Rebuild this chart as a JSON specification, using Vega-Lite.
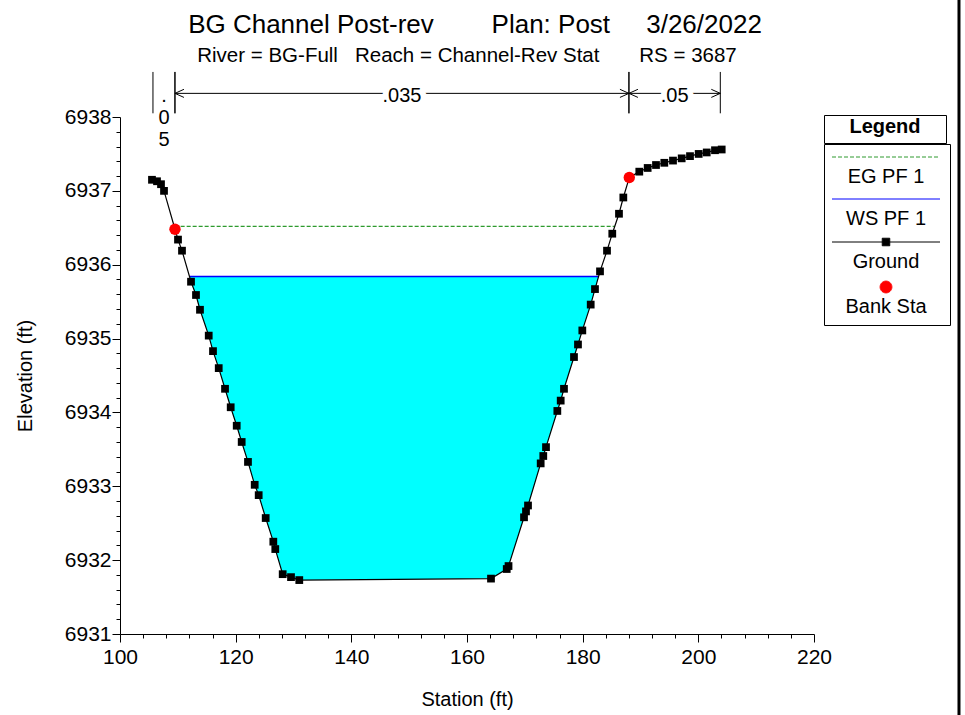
{
  "$schema": "https://vega.github.io/schema/vega-lite/v6.json",
  "width": 694,
  "height": 517,
  "autosize": {"type": "none"},
  "padding": {"left": 120, "top": 117, "right": 151, "bottom": 81},
  "background": "white",
  "title": {
    "text": "BG Channel Post-rev\u00a0\u00a0\u00a0\u00a0\u00a0\u00a0\u00a0\u00a0Plan: Post\u00a0\u00a0\u00a0\u00a0\u00a03/26/2022",
    "subtitle": "River = BG-Full\u00a0\u00a0\u00a0Reach = Channel-Rev Stat\u00a0\u00a0\u00a0\u00a0\u00a0\u00a0\u00a0RS = 3687",
    "font": "Liberation Sans",
    "fontSize": 26,
    "fontWeight": "normal",
    "color": "black",
    "subtitleFont": "Liberation Sans",
    "subtitleFontSize": 20.5,
    "subtitleColor": "black",
    "subtitlePadding": 8,
    "anchor": "middle",
    "offset": -69,
    "dx": 8,
    "encode": {"subtitle": {"update": {"dx": {"value": 0}}}}
  },
  "datasets": {
    "ground": [
      {"station": 105.53, "elev": 6937.15}, {"station": 106.40, "elev": 6937.13}, {"station": 107.09, "elev": 6937.09},
      {"station": 107.61, "elev": 6937.00}, {"station": 109.51, "elev": 6936.48}, {"station": 110.03, "elev": 6936.34},
      {"station": 110.72, "elev": 6936.19}, {"station": 112.28, "elev": 6935.77}, {"station": 113.14, "elev": 6935.59},
      {"station": 113.83, "elev": 6935.39}, {"station": 115.34, "elev": 6935.04}, {"station": 116.08, "elev": 6934.83},
      {"station": 117.07, "elev": 6934.60}, {"station": 118.16, "elev": 6934.32}, {"station": 119.14, "elev": 6934.07},
      {"station": 120.18, "elev": 6933.82}, {"station": 121.04, "elev": 6933.60}, {"station": 122.13, "elev": 6933.33},
      {"station": 123.29, "elev": 6933.02}, {"station": 123.98, "elev": 6932.88}, {"station": 125.19, "elev": 6932.57},
      {"station": 126.51, "elev": 6932.25}, {"station": 126.85, "elev": 6932.15}, {"station": 128.13, "elev": 6931.81},
      {"station": 129.57, "elev": 6931.77}, {"station": 131.00, "elev": 6931.73}, {"station": 164.15, "elev": 6931.75},
      {"station": 166.87, "elev": 6931.88}, {"station": 167.18, "elev": 6931.92}, {"station": 169.86, "elev": 6932.58},
      {"station": 170.20, "elev": 6932.66}, {"station": 170.55, "elev": 6932.74}, {"station": 172.74, "elev": 6933.31},
      {"station": 173.19, "elev": 6933.41}, {"station": 173.66, "elev": 6933.53}, {"station": 175.62, "elev": 6934.02},
      {"station": 176.20, "elev": 6934.16}, {"station": 176.77, "elev": 6934.32}, {"station": 178.50, "elev": 6934.75},
      {"station": 179.19, "elev": 6934.92}, {"station": 179.94, "elev": 6935.11}, {"station": 181.39, "elev": 6935.46},
      {"station": 182.13, "elev": 6935.67}, {"station": 183.00, "elev": 6935.91}, {"station": 184.21, "elev": 6936.19},
      {"station": 185.12, "elev": 6936.42}, {"station": 186.28, "elev": 6936.69}, {"station": 187.03, "elev": 6936.91},
      {"station": 188.06, "elev": 6937.18}, {"station": 189.79, "elev": 6937.26}, {"station": 191.24, "elev": 6937.31},
      {"station": 192.68, "elev": 6937.35}, {"station": 194.12, "elev": 6937.38}, {"station": 195.62, "elev": 6937.41},
      {"station": 197.12, "elev": 6937.44}, {"station": 198.56, "elev": 6937.47}, {"station": 200.06, "elev": 6937.50},
      {"station": 201.45, "elev": 6937.52}, {"station": 202.88, "elev": 6937.55}, {"station": 204.04, "elev": 6937.56}
    ],
    "bank": [
      {"station": 109.51, "elev": 6936.48},
      {"station": 188.06, "elev": 6937.18}
    ],
    "water": [
      {"station": 112.05, "elev": 6935.84},
      {"station": 112.28, "elev": 6935.77}, {"station": 113.14, "elev": 6935.59}, {"station": 113.83, "elev": 6935.39},
      {"station": 115.34, "elev": 6935.04}, {"station": 116.08, "elev": 6934.83}, {"station": 117.07, "elev": 6934.60},
      {"station": 118.16, "elev": 6934.32}, {"station": 119.14, "elev": 6934.07}, {"station": 120.18, "elev": 6933.82},
      {"station": 121.04, "elev": 6933.60}, {"station": 122.13, "elev": 6933.33}, {"station": 123.29, "elev": 6933.02},
      {"station": 123.98, "elev": 6932.88}, {"station": 125.19, "elev": 6932.57}, {"station": 126.51, "elev": 6932.25},
      {"station": 126.85, "elev": 6932.15}, {"station": 128.13, "elev": 6931.81}, {"station": 129.57, "elev": 6931.77},
      {"station": 131.00, "elev": 6931.73}, {"station": 164.15, "elev": 6931.75}, {"station": 166.87, "elev": 6931.88},
      {"station": 167.18, "elev": 6931.92}, {"station": 169.86, "elev": 6932.58}, {"station": 170.20, "elev": 6932.66},
      {"station": 170.55, "elev": 6932.74}, {"station": 172.74, "elev": 6933.31}, {"station": 173.19, "elev": 6933.41},
      {"station": 173.66, "elev": 6933.53}, {"station": 175.62, "elev": 6934.02}, {"station": 176.20, "elev": 6934.16},
      {"station": 176.77, "elev": 6934.32}, {"station": 178.50, "elev": 6934.75}, {"station": 179.19, "elev": 6934.92},
      {"station": 179.94, "elev": 6935.11}, {"station": 181.39, "elev": 6935.46}, {"station": 182.13, "elev": 6935.67},
      {"station": 182.75, "elev": 6935.84}
    ],
    "eg": [
      {"station": 109.45, "elev": 6936.52},
      {"station": 185.55, "elev": 6936.52}
    ],
    "ws": [
      {"station": 112.05, "elev": 6935.84},
      {"station": 182.75, "elev": 6935.84}
    ],
    "nzones": [
      {"n": ".05", "start": 105.7, "end": 109.5},
      {"n": ".035", "start": 109.5, "end": 188.0},
      {"n": ".05", "start": 188.0, "end": 203.8}
    ],
    "frame": [
      {"station": 245.07}
    ]
  },
  "resolve": {"axis": {"x": "independent", "y": "independent"}},
  "layer": [
    {
      "data": {"name": "water"},
      "mark": {"type": "area", "color": "#00ffff", "orient": "vertical", "opacity": 1},
      "encoding": {
        "x": {"field": "station", "type": "quantitative", "scale": {"domain": [100, 220], "nice": false, "zero": false}, "axis": null},
        "y": {"field": "elev", "type": "quantitative", "scale": {"domain": [6931, 6938], "nice": false, "zero": false}, "axis": null},
        "y2": {"datum": 6935.84}
      }
    },
    {
      "data": {"name": "eg"},
      "mark": {"type": "line", "strokeWidth": 1.2},
      "encoding": {
        "x": {"field": "station", "type": "quantitative", "scale": {"domain": [100, 220], "nice": false, "zero": false}, "axis": null},
        "y": {"field": "elev", "type": "quantitative", "scale": {"domain": [6931, 6938], "nice": false, "zero": false}, "axis": null},
        "color": {
          "datum": "EG PF 1",
          "type": "nominal",
          "scale": {"domain": ["EG PF 1", "WS PF 1", "Ground", "Bank Sta"], "range": ["#2e9a2e", "#0000ff", "#000000", "#ff0000"]},
          "legend": {
            "title": null,
            "orient": "none",
            "legendX": 704,
            "legendY": 27,
            "padding": 8,
            "strokeColor": "black",
            "fillColor": "white",
            "cornerRadius": 0,
            "labelFont": "Liberation Sans",
            "labelFontSize": 20,
            "labelColor": "black",
            "labelLimit": 300,
            "symbolSize": 16,
            "rowPadding": 7,
            "encode": {
              "symbols": {
                "update": {
                  "shape": {"signal": "datum.value === 'Bank Sta' ? 'circle' : datum.value === 'Ground' ? 'M-1,0H1M-0.07,-0.07H0.07V0.07H-0.07Z' : 'M-1,0H1'"},
                  "size": {"signal": "datum.value === 'Bank Sta' ? 140 : 11664"},
                  "x": {"value": 54},
                  "y": {"value": 5},
                  "fill": {"signal": "datum.value === 'Bank Sta' ? '#ff0000' : datum.value === 'Ground' ? '#000000' : 'transparent'"},
                  "stroke": {"signal": "datum.value === 'Bank Sta' ? 'transparent' : datum.value === 'EG PF 1' ? '#2e9a2e' : datum.value === 'WS PF 1' ? '#0000ff' : '#000000'"},
                  "strokeDash": {"signal": "datum.value === 'EG PF 1' ? [4, 2] : [1, 0]"},
                  "strokeWidth": {"value": 1},
                  "opacity": {"value": 1}
                }
              },
              "labels": {
                "update": {
                  "x": {"value": 54},
                  "y": {"value": 25},
                  "align": {"value": "center"},
                  "baseline": {"value": "middle"}
                }
              }
            }
          }
        },
        "strokeDash": {
          "datum": "EG",
          "type": "nominal",
          "scale": {"domain": ["EG"], "range": [[4, 2]]},
          "legend": {
            "title": "Legend",
            "orient": "none",
            "legendX": 704,
            "legendY": -2,
            "padding": 2,
            "strokeColor": "black",
            "fillColor": "white",
            "cornerRadius": 0,
            "titleFont": "Liberation Sans",
            "titleFontSize": 20,
            "titleFontWeight": "bold",
            "titleColor": "black",
            "titleAnchor": "middle",
            "titleAlign": "center",
            "titlePadding": -1,
            "titleLimit": 300,
            "symbolType": "M-120,0H120",
            "symbolSize": 1,
            "symbolStrokeWidth": 1,
            "symbolOpacity": 0,
            "symbolStrokeColor": "white",
            "symbolOffset": 53,
            "labelExpr": "''",
            "labelFontSize": 0,
            "labelOffset": 0
          }
        }
      }
    },
    {
      "data": {"name": "ws"},
      "mark": {"type": "line", "strokeWidth": 1.5},
      "encoding": {
        "x": {"field": "station", "type": "quantitative", "scale": {"domain": [100, 220], "nice": false, "zero": false}, "axis": null},
        "y": {"field": "elev", "type": "quantitative", "scale": {"domain": [6931, 6938], "nice": false, "zero": false}, "axis": null},
        "color": {"datum": "WS PF 1", "type": "nominal"}
      }
    },
    {
      "data": {"name": "ground"},
      "mark": {"type": "line", "strokeWidth": 1.2},
      "encoding": {
        "x": {
          "field": "station", "type": "quantitative",
          "scale": {"domain": [100, 220], "nice": false, "zero": false},
          "axis": {
            "orient": "bottom", "title": "Station (ft)", "values": [100, 120, 140, 160, 180, 200, 220], "format": "d",
            "tickSize": 8, "labelFontSize": 21, "labelPadding": 4, "titleFontSize": 20, "titleFontWeight": "normal",
            "titlePadding": 22, "grid": false, "domainColor": "black", "tickColor": "black", "labelColor": "black",
            "titleColor": "black", "labelFlush": false, "labelOverlap": false, "labelFont": "Liberation Sans", "titleFont": "Liberation Sans"
          }
        },
        "y": {
          "field": "elev", "type": "quantitative",
          "scale": {"domain": [6931, 6938], "nice": false, "zero": false},
          "axis": {
            "orient": "left", "title": "Elevation (ft)", "values": [6931, 6932, 6933, 6934, 6935, 6936, 6937, 6938], "format": "d",
            "tickSize": 8, "labelFontSize": 21, "labelPadding": 1, "titleFontSize": 20, "titleFontWeight": "normal",
            "titlePadding": 29, "grid": false, "domainColor": "black", "tickColor": "black", "labelColor": "black",
            "titleColor": "black", "labelFlush": false, "labelOverlap": false, "labelFont": "Liberation Sans", "titleFont": "Liberation Sans"
          }
        },
        "color": {"datum": "Ground", "type": "nominal"}
      }
    },
    {
      "data": {"name": "ground"},
      "mark": {"type": "point", "shape": "square", "filled": true, "size": 60, "opacity": 1, "strokeWidth": 0},
      "encoding": {
        "x": {
          "field": "station", "type": "quantitative",
          "scale": {"domain": [100, 220], "nice": false, "zero": false},
          "axis": {
            "orient": "bottom", "title": null, "labels": false, "domain": false, "grid": false, "tickSize": 4, "tickColor": "black",
            "values": [104, 108, 112, 116, 124, 128, 132, 136, 144, 148, 152, 156, 164, 168, 172, 176, 184, 188, 192, 196, 204, 208, 212, 216]
          }
        },
        "y": {
          "field": "elev", "type": "quantitative",
          "scale": {"domain": [6931, 6938], "nice": false, "zero": false},
          "axis": {
            "orient": "left", "title": null, "labels": false, "domain": false, "grid": false, "tickSize": 4, "tickColor": "black",
            "values": [6931.2, 6931.4, 6931.6, 6931.8, 6932.2, 6932.4, 6932.6, 6932.8, 6933.2, 6933.4, 6933.6, 6933.8, 6934.2, 6934.4, 6934.6, 6934.8, 6935.2, 6935.4, 6935.6, 6935.8, 6936.2, 6936.4, 6936.6, 6936.8, 6937.2, 6937.4, 6937.6, 6937.8]
          }
        },
        "color": {"datum": "Ground", "type": "nominal"}
      }
    },
    {
      "data": {"name": "bank"},
      "mark": {"type": "point", "shape": "circle", "filled": true, "size": 130, "opacity": 1, "strokeWidth": 0},
      "encoding": {
        "x": {"field": "station", "type": "quantitative", "scale": {"domain": [100, 220], "nice": false, "zero": false}, "axis": null},
        "y": {"field": "elev", "type": "quantitative", "scale": {"domain": [6931, 6938], "nice": false, "zero": false}, "axis": null},
        "color": {"datum": "Bank Sta", "type": "nominal"}
      }
    },
    {
      "data": {"name": "nzones"},
      "mark": {"type": "rule", "color": "black", "strokeWidth": 1},
      "encoding": {
        "x": {"field": "start", "type": "quantitative", "scale": {"domain": [100, 220], "nice": false, "zero": false}, "axis": null},
        "y": {"datum": 6938.05, "type": "quantitative", "scale": {"domain": [6931, 6938], "nice": false, "zero": false}, "axis": null},
        "y2": {"datum": 6938.61}
      }
    },
    {
      "data": {"name": "nzones"},
      "mark": {"type": "rule", "color": "black", "strokeWidth": 1},
      "encoding": {
        "x": {"field": "end", "type": "quantitative", "scale": {"domain": [100, 220], "nice": false, "zero": false}, "axis": null},
        "y": {"datum": 6938.05, "type": "quantitative", "scale": {"domain": [6931, 6938], "nice": false, "zero": false}, "axis": null},
        "y2": {"datum": 6938.61}
      }
    },
    {
      "data": {"name": "nzones"},
      "transform": [{"filter": "datum.end - datum.start > 10"}],
      "mark": {"type": "rule", "color": "black", "strokeWidth": 1},
      "encoding": {
        "x": {"field": "start", "type": "quantitative", "scale": {"domain": [100, 220], "nice": false, "zero": false}, "axis": null},
        "x2": {"field": "end"},
        "y": {"datum": 6938.32, "type": "quantitative", "scale": {"domain": [6931, 6938], "nice": false, "zero": false}, "axis": null}
      }
    },
    {
      "data": {"name": "nzones"},
      "transform": [{"filter": "datum.end - datum.start > 10"}],
      "mark": {"type": "point", "shape": "M1,-0.45L0,0L1,0.45", "filled": false, "size": 324, "color": "black", "strokeWidth": 1, "opacity": 1},
      "encoding": {
        "x": {"field": "start", "type": "quantitative", "scale": {"domain": [100, 220], "nice": false, "zero": false}, "axis": null},
        "y": {"datum": 6938.32, "type": "quantitative", "scale": {"domain": [6931, 6938], "nice": false, "zero": false}, "axis": null}
      }
    },
    {
      "data": {"name": "nzones"},
      "transform": [{"filter": "datum.end - datum.start > 10"}],
      "mark": {"type": "point", "shape": "M-1,-0.45L0,0L-1,0.45", "filled": false, "size": 324, "color": "black", "strokeWidth": 1, "opacity": 1},
      "encoding": {
        "x": {"field": "end", "type": "quantitative", "scale": {"domain": [100, 220], "nice": false, "zero": false}, "axis": null},
        "y": {"datum": 6938.32, "type": "quantitative", "scale": {"domain": [6931, 6938], "nice": false, "zero": false}, "axis": null}
      }
    },
    {
      "data": {"name": "nzones"},
      "transform": [{"filter": "datum.end - datum.start > 10"}, {"calculate": "(datum.start + datum.end) / 2", "as": "mid"}],
      "mark": {"type": "text", "font": "Liberation Sans", "fontSize": 20, "align": "center", "baseline": "middle", "fill": "white", "stroke": "white", "strokeWidth": 12, "strokeJoin": "round"},
      "encoding": {
        "x": {"field": "mid", "type": "quantitative", "scale": {"domain": [100, 220], "nice": false, "zero": false}, "axis": null},
        "y": {"datum": 6938.29, "type": "quantitative", "scale": {"domain": [6931, 6938], "nice": false, "zero": false}, "axis": null},
        "text": {"field": "n", "type": "nominal"}
      }
    },
    {
      "data": {"name": "nzones"},
      "transform": [{"filter": "datum.end - datum.start > 10"}, {"calculate": "(datum.start + datum.end) / 2", "as": "mid"}],
      "mark": {"type": "text", "font": "Liberation Sans", "fontSize": 20, "align": "center", "baseline": "middle", "color": "black"},
      "encoding": {
        "x": {"field": "mid", "type": "quantitative", "scale": {"domain": [100, 220], "nice": false, "zero": false}, "axis": null},
        "y": {"datum": 6938.29, "type": "quantitative", "scale": {"domain": [6931, 6938], "nice": false, "zero": false}, "axis": null},
        "text": {"field": "n", "type": "nominal"}
      }
    },
    {
      "data": {"name": "nzones"},
      "transform": [{"filter": "datum.end - datum.start <= 10"}, {"calculate": "(datum.start + datum.end) / 2", "as": "mid"}, {"calculate": "split(datum.n, '')", "as": "chars"}],
      "mark": {"type": "text", "font": "Liberation Sans", "fontSize": 20, "align": "center", "baseline": "alphabetic", "lineHeight": 22, "color": "black"},
      "encoding": {
        "x": {"field": "mid", "type": "quantitative", "scale": {"domain": [100, 220], "nice": false, "zero": false}, "axis": null},
        "y": {"datum": 6938.2, "type": "quantitative", "scale": {"domain": [6931, 6938], "nice": false, "zero": false}, "axis": null},
        "text": {"field": "chars", "type": "nominal"}
      }
    },
    {
      "data": {"name": "frame"},
      "mark": {"type": "rule", "color": "black", "strokeWidth": 3},
      "encoding": {
        "x": {"field": "station", "type": "quantitative", "scale": {"domain": [100, 220], "nice": false, "zero": false}, "axis": null},
        "y": {"datum": 6939.6, "type": "quantitative", "scale": {"domain": [6931, 6938], "nice": false, "zero": false}, "axis": null},
        "y2": {"datum": 6929.8}
      }
    }
  ],
  "config": {
    "font": "Liberation Sans",
    "view": {"stroke": null},
    "axis": {"domainWidth": 1, "tickWidth": 1}
  }
}
